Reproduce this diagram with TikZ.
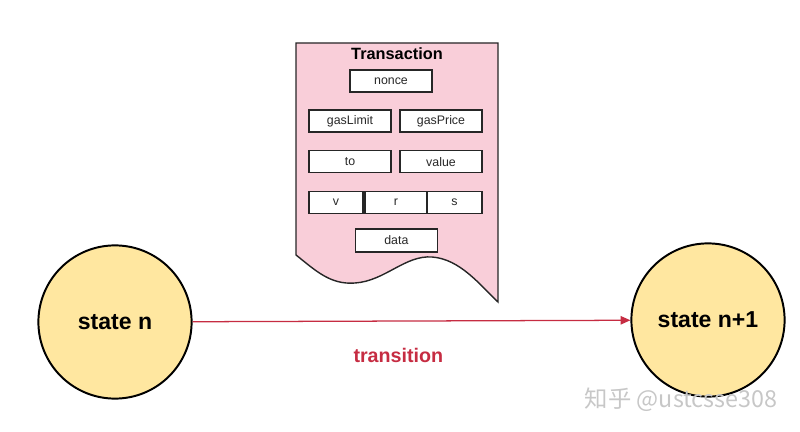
\documentclass[tikz,border=0pt]{standalone}
\usepackage{fontspec}
\setmainfont{Liberation Sans}
\newfontfamily\cjk{Noto Sans CJK SC}
\usetikzlibrary{arrows.meta}
\definecolor{statefill}{RGB}{255,231,160}
\definecolor{txfill}{RGB}{249,206,217}
\definecolor{transred}{RGB}{198,44,66}
\definecolor{boxtext}{RGB}{40,40,40}
\tikzset{
  state/.style={circle,draw=black,line width=1.4pt,fill=statefill,minimum size=3.83cm,inner sep=0pt,font=\fontsize{16.4}{18}\selectfont\bfseries},
  field/.style={draw=black!85,line width=0.9pt,fill=white,minimum width=2.05cm,minimum height=0.55cm,inner sep=0pt,text=boxtext,font=\fontsize{8.8}{10}\selectfont}
}
\begin{document}
\begin{tikzpicture}

\useasboundingbox (0,0) rectangle (20,-10.8);

\draw[line width=1pt,draw=black!85,fill=txfill] (7.4,-1.075) -- (12.45,-1.075) -- (12.45,-7.55)
  .. controls (12.0,-7.125) and (11.5,-6.475) .. (10.8,-6.425)
  .. controls (10.125,-6.375) and (9.625,-7.025) .. (8.875,-7.075)
  .. controls (8.25,-7.125) and (7.875,-6.75) .. (7.4,-6.375) -- cycle;

\node (title) at (9.925,-1.35) {\fontsize{11.6}{13}\selectfont\bfseries Transaction};
\node (nonce) [field] at (9.775,-2.025) {nonce};
\node (gaslimit) [field] at (8.75,-3.025) {gasLimit};
\node (gasprice) [field] at (11.025,-3.025) {gasPrice};
\node (to) [field] at (8.75,-4.04) {to};
\node (value) [field] at (11.025,-4.04) {value};
\node (v) [field,minimum width=1.35cm] at (8.4,-5.06) {v};
\node (r) [field,minimum width=1.55cm] at (9.9,-5.06) {r};
\node (s) [field,minimum width=1.375cm] at (11.36,-5.06) {s};
\node (data) [field,minimum height=0.575cm] at (9.91,-6.01) {data};

\node (staten) [state] at (2.875,-8.05) {state n};
\node (statenext) [state] at (17.7,-8.0) {state n+1};

\draw[-{Triangle[length=7pt,width=6pt]},draw=transred,line width=0.9pt] (staten) -- (statenext)
  node (trans) [pos=0.47,below=0.55cm,text=transred,font=\fontsize{14}{16}\selectfont\bfseries] {transition};

\node (mark) at (17.03,-10.0) {\cjk\fontsize{16.6}{18}\selectfont\color{black!22}知乎 @ustcsse308};

\end{tikzpicture}
\end{document}
